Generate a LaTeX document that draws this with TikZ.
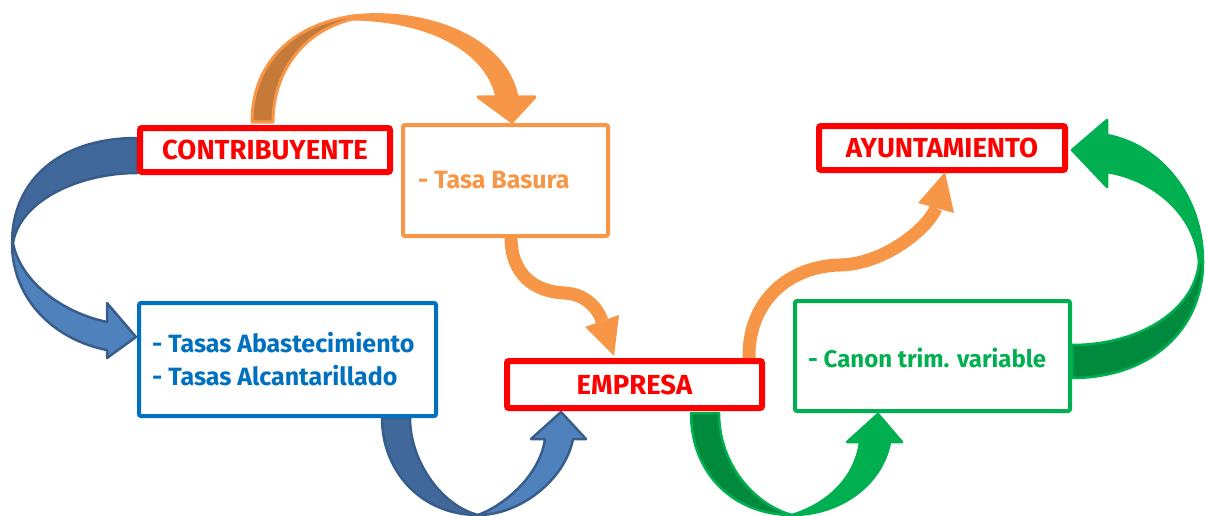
\documentclass[tikz,border=0pt]{standalone}
\usepackage{fontspec}
\setmainfont{Fira Sans}
\usetikzlibrary{calc}
\definecolor{cred}{HTML}{FF0000}
\definecolor{corange}{HTML}{F79646}
\definecolor{cbrown}{HTML}{C57A3A}
\definecolor{cblue}{HTML}{0070C0}
\definecolor{bluelight}{HTML}{4F81BD}
\definecolor{bluedark}{HTML}{41689A}
\definecolor{blueedge}{HTML}{385D8A}
\definecolor{cgreen}{HTML}{00B050}
\definecolor{greendark}{HTML}{008A3E}
\tikzset{
  redbox/.style={draw=cred, line width=6pt, fill=white, rounded corners=2pt, inner sep=0pt, text=cred,
    font=\fontsize{27.5}{30}\selectfont\bfseries},
  colbox/.style={draw=#1, line width=4pt, fill=white, rounded corners=2pt, inner sep=0pt},
  boxtext/.style={text=#1, anchor=base west, inner sep=0pt, font=\fontsize{25}{33}\selectfont\bfseries},
  bluearrow/.style={line width=2.5pt, draw=blueedge, line join=round},
  greenarrow/.style={line width=2.5pt, draw=cgreen, line join=round},
  orangearrow/.style={line width=3pt, draw=corange, line join=round},
  thinshaft/.style={draw=corange, line width=13pt},
}
\begin{document}
\begin{tikzpicture}[x=1pt,y=-1pt]
\useasboundingbox (0,0) rectangle (1206,516);

% ---------- big curved arrows ----------
% orange top arrow (CONTRIBUYENTE -> Tasa Basura)
\path[orangearrow, fill=cbrown] (252,122) .. controls (252,65) and (290,25) .. (353,16)
  -- (353,19) .. controls (305,30) and (273,70) .. (273,122) -- cycle;
\path[orangearrow, fill=corange] (353,16) .. controls (420,8) and (505,35) .. (517,97)
  -- (535,97) -- (512,122) -- (478,97) -- (497,97)
  .. controls (485,45) and (420,20) .. (353,19) -- cycle;

% blue left arrow (CONTRIBUYENTE -> Tasas)
\path[bluearrow, fill=bluedark] (137,138) .. controls (60,138) and (12,180) .. (12,243)
  -- (13,243) .. controls (20,200) and (80,173) .. (137,173) -- cycle;
\path[bluearrow, fill=bluelight] (12,243) .. controls (12,300) and (55,340) .. (107,350)
  -- (107,358) -- (136,337) -- (107,303) -- (107,322)
  .. controls (60,312) and (20,280) .. (13,243) -- cycle;

% blue bottom arrow (Tasas -> EMPRESA)
\path[bluearrow, fill=bluedark] (382,418) .. controls (382,470) and (420,515) .. (478,515)
  .. controls (440,505) and (410,460) .. (410,418) -- cycle;
\path[bluearrow, fill=bluelight] (478,515) .. controls (520,515) and (565,480) .. (573,439)
  -- (586,439) -- (561,412) -- (531,439) -- (545,439)
  .. controls (540,475) and (505,505) .. (478,515) -- cycle;

% green bottom arrow (EMPRESA -> Canon)
\path[greenarrow, fill=greendark] (691,413) .. controls (691,475) and (735,515) .. (792,515)
  .. controls (755,505) and (719,465) .. (719,413) -- cycle;
\path[greenarrow, fill=cgreen] (792,515) .. controls (840,515) and (882,485) .. (890,442)
  -- (902,442) -- (878,414) -- (847,442) -- (860,442)
  .. controls (855,480) and (825,505) .. (792,515) -- cycle;

% green right arrow (Canon -> AYUNTAMIENTO)
\path[greenarrow, fill=greendark] (1072,378) .. controls (1150,378) and (1203,330) .. (1203,262)
  -- (1199,262) .. controls (1195,310) and (1140,345) .. (1072,345) -- cycle;
\path[greenarrow, fill=cgreen] (1203,262) .. controls (1203,195) and (1160,145) .. (1107,135)
  -- (1107,120) -- (1072,150) -- (1107,187) -- (1107,172)
  .. controls (1155,180) and (1195,215) .. (1199,262) -- cycle;

% ---------- boxes ----------
\node[redbox, minimum width=250pt, minimum height=44pt] (contrib) at (265,150) {CONTRIBUYENTE};
\node[redbox, minimum width=246pt, minimum height=44pt] (ayto) at (942,148) {AYUNTAMIENTO};
\node[redbox, minimum width=255pt, minimum height=47pt] (empresa) at (634.5,384.5) {EMPRESA};
\node[colbox=corange, minimum width=205pt, minimum height=111pt] (basura) at (505.5,180.5) {};
\node[colbox=cblue, minimum width=297pt, minimum height=113pt] (tasas) at (287.5,359.5) {};
\node[colbox=cgreen, minimum width=275pt, minimum height=110pt] (canon) at (932.5,356) {};

% ---------- thin orange arrows ----------
\coordinate (b1) at (511,237);
\coordinate (b2) at (602,321);
\draw[thinshaft] (b1) .. controls (511,275) and (535,292) .. (565,293) .. controls (585,294) and (598,308) .. (b2);
\fill[corange] (585,327) -- (614,356) -- (619,315) -- cycle;

\coordinate (e1) at (749,358);
\coordinate (e2) at (936,208);
\draw[thinshaft] (e1) .. controls (748,300) and (790,266) .. (840,265) .. controls (885,264) and (928,228) .. (e2);
\fill[corange] (918,203) -- (945,172) -- (954,213) -- cycle;

% ---------- texts ----------
\node[boxtext=corange] (tbasura) at (418,188) {- Tasa Basura};
\node[boxtext=cblue] (tabast) at (152,352) {- Tasas Abastecimiento};
\node[boxtext=cblue] (talc) at (152,385) {- Tasas Alcantarillado};
\node[boxtext=cgreen, font=\fontsize{24}{30}\selectfont\bfseries] (tcanon) at (808,367) {- Canon trim. variable};
\end{tikzpicture}
\end{document}
